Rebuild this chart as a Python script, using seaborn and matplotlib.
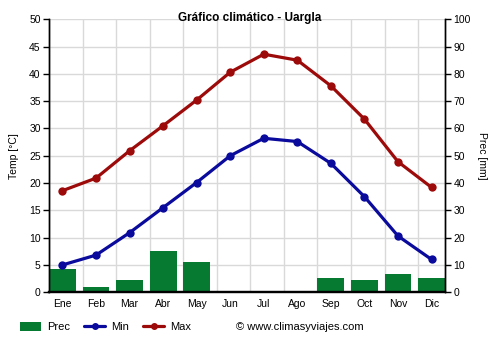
import numpy as np
import pandas as pd
import matplotlib
matplotlib.use('Agg')
import matplotlib.pyplot as plt
import seaborn as sns
from matplotlib.lines import Line2D
from matplotlib.patches import Patch

months = ['Ene', 'Feb', 'Mar', 'Abr', 'May', 'Jun', 'Jul', 'Ago', 'Sep', 'Oct', 'Nov', 'Dic']
prec = [8.5, 1.9, 4.5, 15.1, 11.1, 0.2, 0.2, 0.3, 5.2, 4.5, 6.7, 5.2]
tmin = [5.0, 6.8, 10.9, 15.5, 20.1, 25.0, 28.2, 27.6, 23.6, 17.5, 10.3, 6.0]
tmax = [18.6, 20.9, 25.9, 30.5, 35.2, 40.3, 43.6, 42.5, 37.8, 31.7, 23.9, 19.2]

GREEN = '#077a32'
BLUE = '#0a0a9c'
RED = '#9c0a0a'
GRID = '#d9d9d9'

sns.set_style('white')
plt.rcParams['font.family'] = ['Liberation Sans', 'DejaVu Sans']
plt.rcParams['text.color'] = 'black'
plt.rcParams['axes.labelcolor'] = 'black'
plt.rcParams['xtick.color'] = 'black'
plt.rcParams['ytick.color'] = 'black'

fig = plt.figure(figsize=(5, 3.5), dpi=100)
fig.patch.set_facecolor('white')
ax = fig.add_axes([0.098, 0.165, 0.792, 0.78])   # precipitation (back)
axT = ax.twinx()                                   # temperature (front)

x = np.arange(len(months))
df = pd.DataFrame({'x': x, 'prec': prec, 'tmin': tmin, 'tmax': tmax})

sns.barplot(data=df, x='x', y='prec', native_scale=True, color=GREEN,
            saturation=1, width=0.8, linewidth=0, ax=ax, zorder=2)

sns.lineplot(data=df, x='x', y='tmin', color=BLUE, marker='o', linewidth=2.3,
             markersize=6, markeredgewidth=0, ax=axT, legend=False, zorder=3)
sns.lineplot(data=df, x='x', y='tmax', color=RED, marker='o', linewidth=2.3,
             markersize=6, markeredgewidth=0, ax=axT, legend=False, zorder=3)

# axes sides
ax.yaxis.tick_right()
ax.yaxis.set_label_position('right')
axT.yaxis.tick_left()
axT.yaxis.set_label_position('left')

ax.set_xlim(-0.4, len(months) - 0.6)
ax.set_ylim(0, 100)
axT.set_ylim(0, 50)

ax.set_xticks(x)
ax.set_xticklabels(months)
ax.set_xticks(x - 0.4, minor=True)
ax.set_yticks(np.arange(0, 101, 10))
axT.set_yticks(np.arange(0, 51, 5))

ax.tick_params(axis='x', which='major', length=0, pad=5, labelsize=7.5, colors='black')
ax.tick_params(axis='x', which='minor', length=5, width=1, color='black', direction='out')
ax.tick_params(axis='y', length=4, width=1, pad=2, labelsize=7.5, color='black',
               labelcolor='black', direction='out', right=True, left=False)
axT.tick_params(axis='y', length=4, width=1, pad=2, labelsize=7.5, color='black',
                labelcolor='black', direction='out', left=True, right=False)

ax.grid(False)
axT.grid(False)
ax.xaxis.grid(True, which='minor', color=GRID, linewidth=1)
ax.yaxis.grid(True, which='major', color=GRID, linewidth=1)
ax.set_axisbelow(True)

for a in (ax, axT):
    a.spines['top'].set_visible(False)
    for s in ('left', 'right', 'bottom'):
        a.spines[s].set_color('black')
        a.spines[s].set_linewidth(1)
    a.spines['bottom'].set_linewidth(1.6)

ax.set_xlabel('')
ax.set_ylabel('Prec [mm]', rotation=-90, labelpad=12, fontsize=7.5, color='black')
axT.set_ylabel('Temp [°C]', labelpad=7, fontsize=7.5, color='black')

fig.text(0.5, (350 - 17.5) / 350, 'Gráfico climático - Uargla', ha='center', va='center',
         fontsize=8.5, fontweight='bold', color='black')

handles = [Patch(facecolor=GREEN, edgecolor='none'),
           Line2D([], [], color=BLUE, linewidth=2.3, marker='o', markersize=4),
           Line2D([], [], color=RED, linewidth=2.3, marker='o', markersize=4)]
fig.legend(handles, ['Prec', 'Min', 'Max'], loc='center left',
           bbox_to_anchor=(0.04, 0.066), ncol=3, frameon=False, fontsize=8,
           handlelength=1.9, handleheight=0.9, handletextpad=0.5, columnspacing=1.3,
           borderpad=0, borderaxespad=0, labelcolor='black')
fig.text(0.472, 0.066, '© www.climasyviajes.com', ha='left', va='center', fontsize=8,
         color='black')

fig.savefig('out.png', dpi=100, facecolor='white')
